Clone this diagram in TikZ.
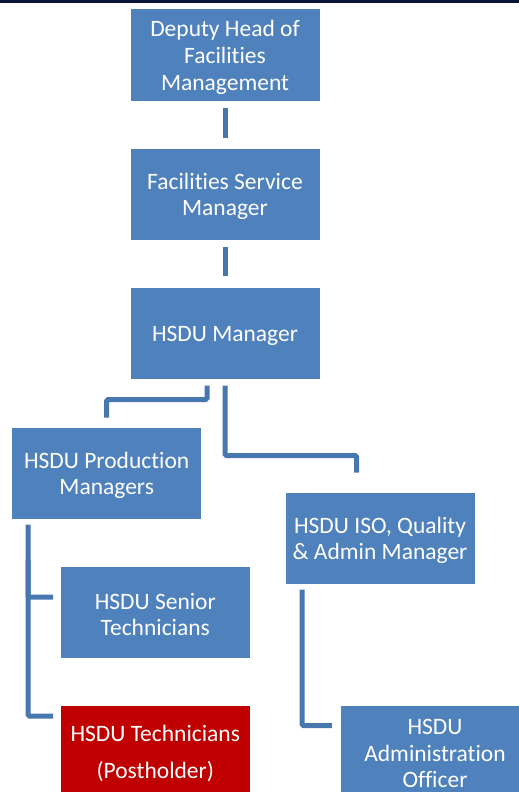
\documentclass[tikz,border=0pt]{standalone}
\usepackage{fontspec}
\setmainfont{Carlito}[Ligatures={NoCommon,NoContextual}]
\definecolor{boxblue}{RGB}{79,129,189}
\definecolor{linkblue}{RGB}{72,118,174}
\definecolor{boxred}{RGB}{192,0,0}
\definecolor{topnavy}{RGB}{10,20,55}
\tikzset{
  orgbox/.style={rectangle, fill=boxblue, draw=white, line width=1pt,
    minimum width=190pt, minimum height=92pt, inner sep=0pt,
    label={[boxtext]center:{#1}}},
  redbox/.style={rectangle, fill=boxred, draw=white, line width=1pt,
    minimum width=190pt, minimum height=92pt, inner sep=0pt,
    label={[boxtext, font=\fontsize{23.5}{37}\selectfont]center:{#1}}},
  boxtext/.style={text=white, align=center, inner sep=0pt, yshift=-2.5pt,
    font=\fontsize{23.5}{26.7}\selectfont},
  link/.style={draw=linkblue, line width=5pt, rounded corners=1.5pt}
}
\begin{document}
\begin{tikzpicture}[x=1pt,y=-1pt]
\useasboundingbox (0,0) rectangle (519,792);
\clip (0,0) rectangle (519,792);
\fill[topnavy] (0,0) rectangle (519,2.6);
\node[orgbox={Deputy Head of\\Facilities\\Management}] (b1) at (225,55) {};
\node[orgbox={Facilities Service\\Manager}] (b2) at (225,194) {};
\node[orgbox={HSDU Manager}] (b3) at (225,333) {};
\node[orgbox={HSDU Production\\Managers}] (b4) at (106.7,473) {};
\node[orgbox={HSDU ISO, Quality\\\& Admin Manager}] (b5) at (380,538) {};
\node[orgbox={HSDU Senior\\Technicians}] (b6) at (155.3,612) {};
\node[redbox={HSDU Technicians\\(Postholder)}] (b7) at (155.3,751) {};
\node[orgbox={HSDU\\Administration\\Officer}] (b8) at (435,751) {};
\draw[link] ([yshift=-6pt]b1.south) -- ([yshift=10pt]b2.north);
\draw[link] ([yshift=-6pt]b2.south) -- ([yshift=11pt]b3.north);
\draw[link] ([xshift=-18pt,yshift=-6pt]b3.south) |- ([yshift=27pt]b4.north) -- ([yshift=9pt]b4.north);
\draw[link] ([yshift=-6pt]b3.south) |- ([xshift=-23.5pt,yshift=36pt]b5.north) -- ([xshift=-23.5pt,yshift=19pt]b5.north);
\draw[link] ([xshift=-78.7pt,yshift=-5pt]b4.south) |- ([xshift=-6.7pt,yshift=35pt]b7.west);
\draw[link] ([xshift=-6.7pt,yshift=15pt]b6.west) -| ([xshift=-78.7pt,yshift=-40pt]b4.south);
\draw[link] ([xshift=-78pt,yshift=-5pt]b5.south) |- ([xshift=-7.7pt,yshift=25.3pt]b8.west);
\end{tikzpicture}
\end{document}
